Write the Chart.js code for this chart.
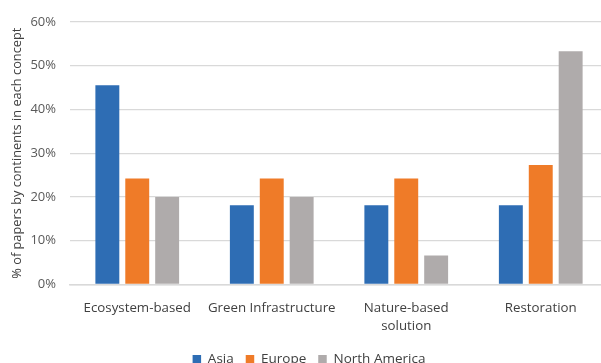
<!DOCTYPE html>
<html>
<head>
<meta charset="utf-8">
<script src="https://cdn.jsdelivr.net/npm/chart.js@4"></script>
<style>
  html, body { margin: 0; padding: 0; background: #fff; overflow: hidden; }
  #wrap { width: 608px; height: 376px; }
</style>
</head>
<body>
<div id="wrap"><canvas id="chart"></canvas></div>
<script>
// Concepts along the x axis
const concepts = ['Ecosystem-based', 'Green Infrastructure', ['Nature-based', 'solution'], 'Restoration'];

// Share of papers (%) per continent
const asia = [45.5, 18.1, 18.1, 18.1];
const europe = [24.2, 24.2, 24.2, 27.3];
const northAmerica = [20.0, 20.0, 6.6, 53.3];

const yTicks = [0, 10, 20, 30, 40, 50, 60];

// Excel-like palette
const colors = { asia: '#2E6DB4', europe: '#EF7B28', na: '#AFABAB' };

Chart.defaults.font.family = '"Open Sans", sans-serif';
Chart.defaults.animation = false;

// nudge the legend sideways to where the original had it
const LEGEND_SHIFT = 5;
const legendShift = {
  id: 'legendShift',
  afterLayout(chart) {
    chart.legend.left += LEGEND_SHIFT;
    chart.legend.right += LEGEND_SHIFT;
  }
};

new Chart(document.getElementById('chart'), {
  type: 'bar',
  data: {
    labels: concepts,
    datasets: [
      { label: 'Asia', data: asia, backgroundColor: colors.asia },
      { label: 'Europe', data: europe, backgroundColor: colors.europe },
      { label: 'North America', data: northAmerica, backgroundColor: colors.na }
    ]
  },
  options: {
    responsive: true,
    maintainAspectRatio: false,
    devicePixelRatio: 1,
    layout: { padding: { top: 14, left: 0, right: 0, bottom: 0 } },
    datasets: {
      bar: { categoryPercentage: 0.667, barPercentage: 0.8 }
    },
    scales: {
      x: {
        afterFit(scale) { scale.height = 56; },
        grid: { display: false },
        border: { color: '#D9D9D9', width: 1.5 },
        ticks: {
          color: '#404040',
          font: { size: 13.3, lineHeight: 1.3 },
          padding: 7.5,
          maxRotation: 0,
          autoSkip: false
        }
      },
      y: {
        min: 0,
        max: 60,
        afterBuildTicks(scale) {
          scale.ticks = yTicks.map(v => ({ value: v }));
        },
        afterFit(scale) { scale.width = 70; },
        border: { display: false },
        grid: { color: '#D9D9D9', lineWidth: 1.3, drawTicks: false },
        ticks: {
          color: '#595959',
          font: { size: 13 },
          padding: 14,
          callback: v => v + '%'
        },
        title: {
          display: true,
          text: '% of papers by continents in each concept',
          color: '#404040',
          font: { size: 12.8 },
          padding: { top: 10, bottom: 0 }
        }
      }
    },
    plugins: {
      legend: {
        position: 'bottom',
        labels: {
          boxWidth: 8.5,
          boxHeight: 8.5,
          color: '#404040',
          font: { size: 13.5 },
          padding: 12
        }
      },
      tooltip: { enabled: false }
    }
  },
  plugins: [legendShift]
});
</script>
</body>
</html>
